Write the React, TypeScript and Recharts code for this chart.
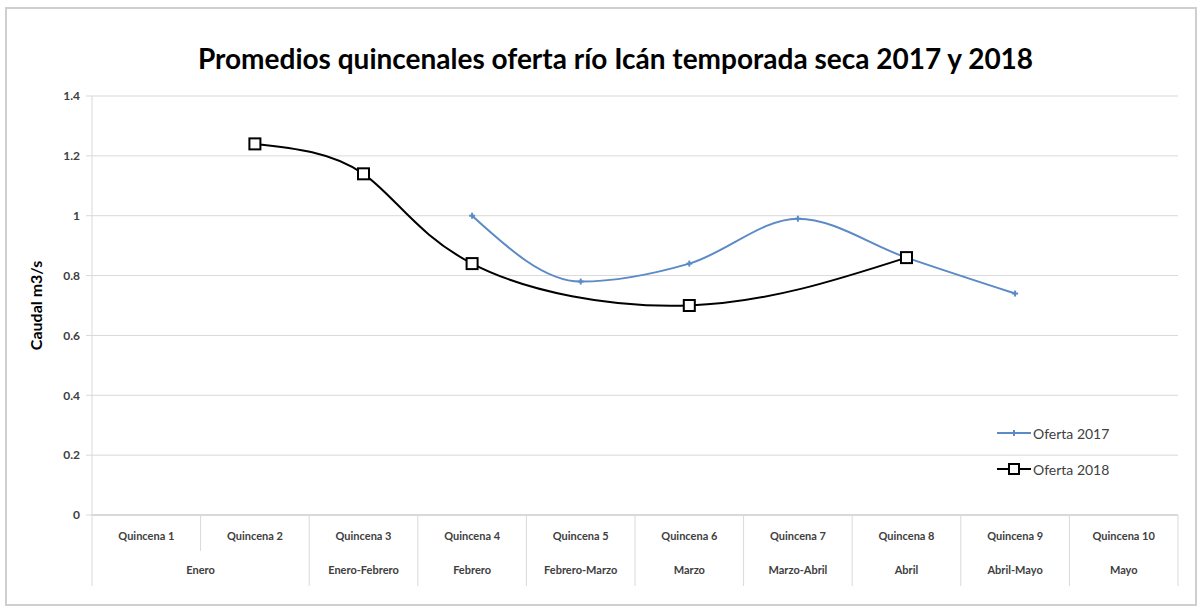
import React from "react"
import { CartesianGrid, Line, LineChart, XAxis, YAxis } from "recharts"

const quincenas = [
  "Quincena 1",
  "Quincena 2",
  "Quincena 3",
  "Quincena 4",
  "Quincena 5",
  "Quincena 6",
  "Quincena 7",
  "Quincena 8",
  "Quincena 9",
  "Quincena 10",
]
const meses = [
  "Enero",
  "Enero",
  "Enero-Febrero",
  "Febrero",
  "Febrero-Marzo",
  "Marzo",
  "Marzo-Abril",
  "Abril",
  "Abril-Mayo",
  "Mayo",
]
const oferta2017 = [null, null, null, 1.0, 0.78, 0.84, 0.99, 0.86, 0.74, null]
const oferta2018 = [null, 1.24, 1.14, 0.84, null, 0.7, null, 0.86, null, null]
const yTicks = [0, 0.2, 0.4, 0.6, 0.8, 1, 1.2, 1.4]

const data = quincenas.map((q, i) => ({
  q,
  mes: meses[i],
  o2017: oferta2017[i],
  o2018: oferta2018[i],
}))

const W = 1203
const H = 610
const LEFT = 92
const RIGHT = 25
const BAND = (W - LEFT - RIGHT) / quincenas.length
const HALF = BAND / 2
const GRID = "#d9d9d9"
const BLUE = "#5b8ac6"
const FONT = "Lato, 'Open Sans', sans-serif"

function CategoryTick(props: any) {
  const { x, y, payload } = props
  const i = payload.index
  const sameAsPrev = i > 0 && meses[i] === meses[i - 1]
  let span = 1
  while (i + span < meses.length && meses[i + span] === meses[i]) span++
  return (
    <g>
      <line x1={x - HALF} x2={x - HALF} y1={y} y2={y + (sameAsPrev ? 36 : 71)} stroke={GRID} />
      {i === quincenas.length - 1 && (
        <line x1={x + HALF} x2={x + HALF} y1={y} y2={y + 71} stroke={GRID} />
      )}
      <text x={x} y={y + 25} textAnchor="middle" fontSize={11} fontWeight={700} fill="#404040" fontFamily={FONT}>
        {quincenas[i]}
      </text>
      {!sameAsPrev && (
        <text
          x={x - HALF + (span * BAND) / 2}
          y={y + 59}
          textAnchor="middle"
          fontSize={11}
          fontWeight={700}
          fill="#404040"
          fontFamily={FONT}
        >
          {meses[i]}
        </text>
      )}
    </g>
  )
}

function PlusDot(props: any) {
  const { cx, cy, value } = props
  if (value == null || cx == null) return null
  return (
    <g>
      <line x1={cx - 3} x2={cx + 3} y1={cy} y2={cy} stroke={BLUE} strokeWidth={2} />
      <line x1={cx} x2={cx} y1={cy - 3} y2={cy + 3} stroke={BLUE} strokeWidth={2} />
    </g>
  )
}

function SquareDot(props: any) {
  const { cx, cy, value } = props
  if (value == null || cx == null) return null
  return <rect x={cx - 5.5} y={cy - 5.5} width={11} height={11} fill="#fff" stroke="#000" strokeWidth={2} />
}

function LegendBox() {
  return (
    <div style={{ fontFamily: FONT, fontSize: 14, color: "#404040" }}>
      <div style={{ display: "flex", alignItems: "center", height: 20 }}>
        <svg width={34} height={12}>
          <line x1={0} x2={34} y1={6} y2={6} stroke={BLUE} strokeWidth={2} />
          <line x1={17} x2={17} y1={3} y2={9} stroke={BLUE} strokeWidth={2} />
        </svg>
        <span style={{ marginLeft: 2 }}>Oferta 2017</span>
      </div>
      <div style={{ display: "flex", alignItems: "center", height: 20, marginTop: 16 }}>
        <svg width={34} height={14}>
          <line x1={0} x2={34} y1={7} y2={7} stroke="#000" strokeWidth={2} />
          <rect x={12} y={2} width={10} height={10} fill="#fff" stroke="#000" strokeWidth={2} />
        </svg>
        <span style={{ marginLeft: 2 }}>Oferta 2018</span>
      </div>
    </div>
  )
}

export default function App() {
  return (
    <div style={{ position: "absolute", left: 0, top: 0, width: W, height: H, background: "#fff" }}>
      <div
        style={{
          position: "absolute",
          left: 5,
          top: 7,
          width: 1188,
          height: 595,
          border: "2px solid #cfcfcf",
        }}
      />
      <div
        style={{
          position: "absolute",
          left: 0,
          width: W,
          top: 41,
          textAlign: "center",
          fontFamily: FONT,
          fontWeight: 700,
          fontSize: 28,
          color: "#000",
          paddingLeft: 28,
          boxSizing: "border-box",
        }}
      >
        Promedios quincenales oferta río Icán temporada seca 2017 y 2018
      </div>
      <div style={{ position: "absolute", left: 0, top: 0 }}>
        <LineChart width={W} height={H} data={data} margin={{ top: 96, right: RIGHT, bottom: 0, left: 0 }}>
          <CartesianGrid vertical={false} stroke={GRID} />
          <XAxis
            dataKey="q"
            interval={0}
            padding={{ left: HALF, right: HALF }}
            height={95}
            axisLine={{ stroke: "#c6c6c6" }}
            tickLine={false}
            tickSize={0}
            tickMargin={0}
            tick={<CategoryTick />}
          />
          <YAxis
            width={LEFT}
            domain={[0, 1.4]}
            ticks={yTicks}
            interval={0}
            axisLine={{ stroke: GRID }}
            tickLine={{ stroke: GRID }}
            tickSize={6}
            tickMargin={6}
            tick={{ fontSize: 12, fontWeight: 700, fill: "#404040", fontFamily: FONT }}
            label={{
              value: "Caudal m3/s",
              angle: -90,
              position: "insideLeft",
              offset: 36,
              style: { fontSize: 16, fontWeight: 700, fill: "#000", fontFamily: FONT, textAnchor: "middle" },
            }}
          />
          <Line
            type="monotone"
            dataKey="o2017"
            name="Oferta 2017"
            stroke={BLUE}
            strokeWidth={2}
            dot={<PlusDot />}
            activeDot={false}
            isAnimationActive={false}
          />
          <Line
            type="natural"
            dataKey="o2018"
            name="Oferta 2018"
            stroke="#000"
            strokeWidth={2}
            connectNulls
            dot={<SquareDot />}
            activeDot={false}
            isAnimationActive={false}
          />
        </LineChart>
      </div>
      <div style={{ position: "absolute", left: 997, top: 423 }}>
        <LegendBox />
      </div>
    </div>
  )
}
